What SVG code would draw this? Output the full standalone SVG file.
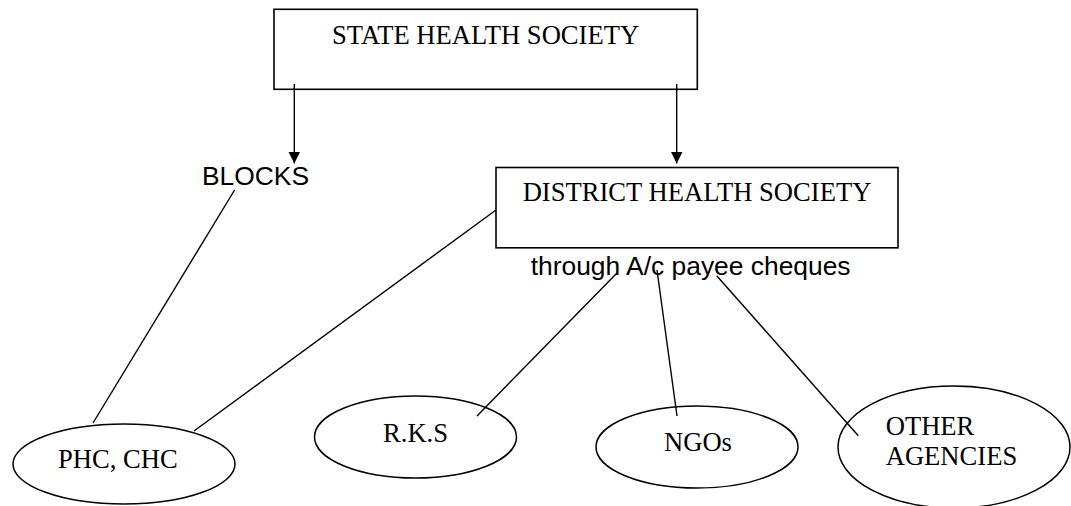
<svg xmlns="http://www.w3.org/2000/svg" width="1071" height="506" viewBox="0 0 1071 506">
<style>
.box{fill:#fff;stroke:#000;stroke-width:1.6}
.ell{fill:#fff;stroke:#000;stroke-width:1.5}
.ln{stroke:#000;stroke-width:1.4;fill:none}
.serif{font-family:"Liberation Serif","Times New Roman",serif;font-size:26.6px;fill:#000}
.sans{font-family:"Liberation Sans",Arial,sans-serif;font-size:26.4px;fill:#000}
</style>
<defs>
<marker id="ah" markerWidth="12" markerHeight="12" refX="12" refY="6" orient="auto" markerUnits="userSpaceOnUse">
<path d="M0,0 L12,6 L0,12 Z" fill="#000"/>
</marker>
</defs>
<rect width="1071" height="506" fill="#fff"/>
<g id="state">
<rect class="box" x="274" y="9.3" width="423.3" height="80"/>
<text class="serif" x="485.6" y="44" text-anchor="middle">STATE HEALTH SOCIETY</text>
</g>
<g id="district">
<rect class="box" x="496" y="167.5" width="402" height="80.3"/>
<text class="serif" x="697" y="201" text-anchor="middle">DISTRICT HEALTH SOCIETY</text>
</g>
<g id="blocks">
<text class="sans" x="202" y="185">BLOCKS</text>
</g>
<g id="through">
<text class="sans" x="530.7" y="275">through A/c payee cheques</text>
</g>
<g id="phc">
<ellipse class="ell" cx="124" cy="464" rx="111" ry="40"/>
<text class="serif" x="58" y="468">PHC, CHC</text>
</g>
<g id="rks">
<ellipse class="ell" cx="415.5" cy="437" rx="101" ry="41"/>
<text class="serif" x="383" y="442">R.K.S</text>
</g>
<g id="ngos">
<ellipse class="ell" cx="697" cy="447" rx="101" ry="41"/>
<text class="serif" x="664" y="451">NGOs</text>
</g>
<g id="other">
<ellipse class="ell" cx="954" cy="447" rx="116" ry="61"/>
<text class="serif" x="885.7" y="435">OTHER</text>
<text class="serif" x="885.7" y="465">AGENCIES</text>
</g>
<g id="connectors">
<line class="ln" x1="294.3" y1="84" x2="294.3" y2="163.5" marker-end="url(#ah)"/>
<line class="ln" x1="676.7" y1="84" x2="676.7" y2="163.5" marker-end="url(#ah)"/>
<line class="ln" x1="234.6" y1="190" x2="93" y2="423"/>
<line class="ln" x1="496" y1="210" x2="194" y2="431"/>
<line class="ln" x1="617" y1="273" x2="477" y2="416"/>
<line class="ln" x1="657" y1="270" x2="677" y2="416"/>
<line class="ln" x1="716.7" y1="275.7" x2="858.3" y2="435.7"/>
</g>
</svg>
